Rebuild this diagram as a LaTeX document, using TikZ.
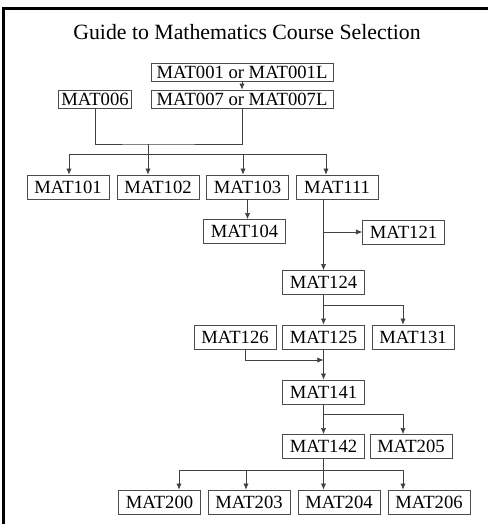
\documentclass[tikz,border=0pt]{standalone}
\usepackage{fontspec}
\setmainfont{Liberation Serif}
\usetikzlibrary{arrows.meta}
\tikzset{
  course/.style={
    draw=black!70,
    inner sep = 0pt,
    font=\fontsize{10.6}{12}\selectfont,
    minimum width=16.4mm,
    minimum height=4.8mm
  },
  longcourse/.style={
    course,
    minimum width=36.4mm,
    minimum height=3.6mm
  },
  link/.style={draw=black!75},
  arr/.style={link,-{Latex[length=3.5pt,width=3pt]}}
}

\begin{document}
\begin{tikzpicture}[x=0.2mm,y=-0.2mm]
            \useasboundingbox (0,0) rectangle (488,524);
            \draw[line width=1.2pt] (3.5,524)--(3.5,8.5)--(488,8.5);
            \node[font=\fontsize{12.4}{14}\selectfont] (title) at (247,32) {Guide to Mathematics Course Selection};
            % first two rows
            \node[longcourse] (m001) at (242,72) {MAT001 or MAT001L};
            \node[longcourse] (m007) at (242,99) {MAT007 or MAT007L};
            \node[course,minimum width=14.6mm,minimum height=3.6mm] (m006) at (95,99) {MAT006};
            \draw[arr] (m001)--(m007);
            \coordinate (j1) at (148,144);
            \coordinate (j2) at (148,154);
            \draw[link] (m006.south)|-(j1)-|(m007.south);
            \draw[link] (j1)--(j2);
            \draw[link] (69,154)--(326,154);
            % 100 level
            \node[course] (m101) at (68,187) {MAT101};
            \node[course] (m102) at (158,187) {MAT102};
            \node[course] (m103) at (247.5,187) {MAT103};
            \node[course] (m111) at (337,187) {MAT111};
            \foreach \x/\n in {69/m101,148/m102,243/m103,326/m111}{
                    \draw[arr] (\x,154)--(\x,154 |- \n.north);
                }
            \node[course] (m104) at (244.5,231.5) {MAT104};
            \node[course] (m121) at (403.5,232) {MAT121};
            \node[course] (m124) at (323.5,282.5) {MAT124};
            \draw[arr] (m103.south)--(m103.south |- m104.north);
            \draw[arr] (m124.north |- m111.south)--(m124.north);
            \draw[arr] (m124.north |- m121.west)--(m121.west);
            \node[course] (m126) at (235,337) {MAT126};
            \node[course] (m125) at (323.5,337) {MAT125};
            \node[course] (m131) at (413,337) {MAT131};
            \coordinate (s1) at (403,305);
            \draw[arr] (m124)--(m125);
            \draw[link] (m124.south |- s1)--(s1);
            \draw[arr] (s1)--(s1 |- m131.north);
            \node[course] (m141) at (323.5,392) {MAT141};
            \coordinate (s2) at (245,360);
            \draw[arr] (s2 |- m126.south)--(s2)--(m125.south |- s2);
            \draw[arr] (m125)--(m141);
            % 200 level
            \node[course] (m142) at (323.5,446.5) {MAT142};
            \node[course] (m205) at (411,446.5) {MAT205};
            \coordinate (s3) at (403,414);
            \draw[arr] (m141)--(m142);
            \draw[link] (m141.south |- s3)--(s3);
            \draw[arr] (s3)--(s3 |- m205.north);
            \node[course] (m200) at (159.5,502) {MAT200};
            \node[course] (m203) at (249,502) {MAT203};
            \node[course] (m204) at (339,502) {MAT204};
            \node[course] (m206) at (429,502) {MAT206};
            \coordinate (s4) at (323.5,470);
            \draw[link] (m142.south)--(s4);
            \draw[link] (179,470)--(403,470);
            \foreach \x/\n in {179/m200,246/m203,323.5/m204,403/m206}{
                    \draw[arr] (\x,470)--(\x,470 |- \n.north);
                }
        \end{tikzpicture}
\end{document}
